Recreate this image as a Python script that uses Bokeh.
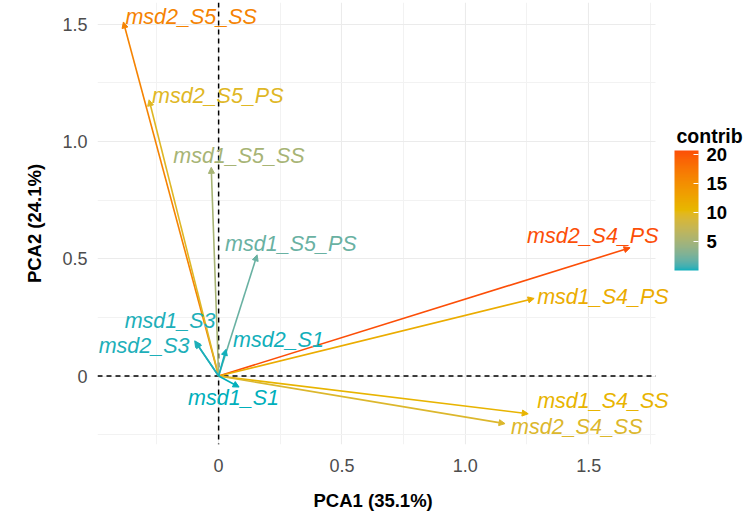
from bokeh.plotting import figure
from bokeh.models import (ColumnDataSource, Range1d, FixedTicker, Span, Arrow,
                          NormalHead, ColorBar, LinearColorMapper, LabelSet, Label,
                          BoxAnnotation, Title)
from bokeh.core.properties import value
from bokeh.embed import file_html
from bokeh.resources import INLINE

# ---- data ----
variables = ["msd2_S5_SS", "msd2_S5_PS", "msd1_S5_SS", "msd1_S5_PS",
             "msd2_S4_PS", "msd1_S4_PS", "msd1_S4_SS", "msd2_S4_SS",
             "msd1_S3", "msd2_S3", "msd2_S1", "msd1_S1"]
pca1 = [-0.386, -0.282, -0.030, 0.156, 1.668, 1.279, 1.255, 1.161,
        -0.093, -0.097, 0.030, 0.083]
pca2 = [1.510, 1.178, 0.890, 0.517, 0.547, 0.331, -0.161, -0.203,
        0.145, 0.150, 0.114, -0.047]
contrib = [16.1, 9.6, 5.1, 1.9, 20.6, 11.7, 10.8, 9.3, 0.22, 0.24, 0.11, 0.06]
x_ticks = [0, 0.5, 1, 1.5]
y_ticks = [0, 0.5, 1, 1.5]
cb_ticks = [5, 10, 15, 20]
x_title = "PCA1 (35.1%)"
y_title = "PCA2 (24.1%)"
legend_title = "contrib"

# panel extent (data units)
x_min, x_max = -0.491, 1.771
y_min, y_max = -0.292, 1.593

# label placement (screen pixel offsets of each label from its arrow tip)
lab_dx = [2, 3, -38, -32, -103, 3, 9, 6, -71, -96, 7, -51]
lab_dy = [-5, -4, -11, -11, -12, -1, -13, 3, -21, 5, -9, 11]

# ---- gradient palette, interpolated in CIELAB like ggplot ----
def srgb_to_lab(h):
    h = h.lstrip("#")
    rgb = [int(h[i:i + 2], 16) / 255 for i in (0, 2, 4)]
    lin = [c / 12.92 if c <= 0.04045 else ((c + 0.055) / 1.055) ** 2.4 for c in rgb]
    X = 0.4124564 * lin[0] + 0.3575761 * lin[1] + 0.1804375 * lin[2]
    Y = 0.2126729 * lin[0] + 0.7151522 * lin[1] + 0.0721750 * lin[2]
    Z = 0.0193339 * lin[0] + 0.1191920 * lin[1] + 0.9503041 * lin[2]
    Xn, Yn, Zn = 0.95047, 1.0, 1.08883
    def f(t):
        return t ** (1 / 3) if t > 216 / 24389 else (24389 / 27 * t + 16) / 116
    fx, fy, fz = f(X / Xn), f(Y / Yn), f(Z / Zn)
    return [116 * fy - 16, 500 * (fx - fy), 200 * (fy - fz)]

def lab_to_hex(lab):
    L, a, b = lab
    fy = (L + 16) / 116
    fx = fy + a / 500
    fz = fy - b / 200
    def finv(t):
        return t ** 3 if t ** 3 > 216 / 24389 else (116 * t - 16) / (24389 / 27)
    X, Y, Z = 0.95047 * finv(fx), finv(fy), 1.08883 * finv(fz)
    r = 3.2404542 * X - 1.5371385 * Y - 0.4985314 * Z
    g = -0.9692660 * X + 1.8760108 * Y + 0.0415560 * Z
    bb = 0.0556434 * X - 0.2040259 * Y + 1.0572252 * Z
    out = []
    for c in (r, g, bb):
        c = 12.92 * c if c <= 0.0031308 else 1.055 * max(c, 0) ** (1 / 2.4) - 0.055
        out.append(max(0, min(255, round(c * 255))))
    return "#%02x%02x%02x" % tuple(out)

stops = [srgb_to_lab(c) for c in ("#00AFBB", "#E7B800", "#FC4E07")]
palette = []
N = 256
for i in range(N):
    t = i / (N - 1) * 2
    k = min(int(t), 1)
    f = t - k
    palette.append(lab_to_hex([stops[k][j] + (stops[k + 1][j] - stops[k][j]) * f
                               for j in range(3)]))

lo, hi = min(contrib), max(contrib)
colors = [palette[min(N - 1, int((c - lo) / (hi - lo) * (N - 1) + 0.5))] for c in contrib]

FONT = "Liberation Sans"

# the frame runs to the right edge so labels are not clipped; the part right of
# x_max is blanked to reproduce the panel edge
PX_PER_UNIT = (655 - 97) / (x_max - x_min)
x_right = x_max + (750 - 655) / PX_PER_UNIT

p = figure(width=750, height=514, output_backend="svg", toolbar_location=None,
           x_range=Range1d(x_min, x_right), y_range=Range1d(y_min, y_max),
           min_border_left=97, min_border_right=0, min_border_top=2,
           min_border_bottom=67)
p.outline_line_color = None
p.background_fill_color = "white"

# grids
p.xaxis.ticker = FixedTicker(ticks=x_ticks, minor_ticks=[-0.25, 0.25, 0.75, 1.25, 1.75])
p.yaxis.ticker = FixedTicker(ticks=y_ticks, minor_ticks=[-0.25, 0.25, 0.75, 1.25])
for g in (p.xgrid, p.ygrid):
    g.grid_line_color = "#EBEBEB"
    g.grid_line_width = 1.1
    g.minor_grid_line_color = "#F2F2F2"
    g.minor_grid_line_width = 1

for ax in (p.xaxis, p.yaxis):
    ax.axis_line_color = None
    ax.major_tick_line_color = None
    ax.minor_tick_line_color = None
    ax.major_label_text_font = FONT
    ax.major_label_text_font_size = "18px"
    ax.major_label_text_color = "#4D4D4D"
    ax.axis_label_text_font = FONT
    ax.axis_label_text_font_size = "18.5px"
    ax.axis_label_text_font_style = "bold"
    ax.axis_label_text_color = "black"
    ax.major_label_overrides = {0: "0", 0.5: "0.5", 1: "1.0", 1.5: "1.5"}
p.yaxis.axis_label = y_title
p.xaxis.major_label_standoff = 8
p.yaxis.major_label_standoff = 4
p.yaxis.axis_label_standoff = 14
# small blank spacer between the x tick labels and the x title
p.xaxis.axis_label = "\u00a0"
p.xaxis.axis_label_text_font_size = "6px"
p.xaxis.axis_label_standoff = 0

# x axis title, centred under the visible panel (97..655 px)
p.add_layout(Title(text=x_title, align="left", offset=216, standoff=8,
                   text_font=FONT, text_font_size="18.5px", text_font_style="bold",
                   text_color="black"), "below")

# reference dashed lines
p.add_layout(Span(location=0, dimension="width", line_color="black",
                  line_dash="5 4", line_width=1.5, level="underlay"))
p.add_layout(Span(location=0, dimension="height", line_color="black",
                  line_dash="5 4", line_width=1.5, level="underlay"))

# blank out the area right of the panel
p.add_layout(BoxAnnotation(left=x_max, fill_color="white", fill_alpha=1,
                           line_color=None, level="underlay"))

# arrows
for xe, ye, col in zip(pca1, pca2, colors):
    p.add_layout(Arrow(end=NormalHead(size=6, fill_color=col, line_color=col, line_width=1),
                       x_start=0, y_start=0, x_end=xe, y_end=ye,
                       line_color=col, line_width=1.6))

src = ColumnDataSource(dict(x=pca1, y=pca2, text=variables, color=colors,
                            dx=lab_dx, dy=[-d for d in lab_dy]))
labels = LabelSet(x="x", y="y", text="text", source=src, text_color="color",
                  x_offset="dx", y_offset="dy",
                  text_font=value(FONT), text_font_size=value("21.5px"),
                  text_font_style=value("italic"),
                  text_align="left", text_baseline="middle")
p.add_layout(labels)

mapper = LinearColorMapper(palette=palette, low=lo, high=hi)
cb = ColorBar(color_mapper=mapper, ticker=FixedTicker(ticks=cb_ticks),
              orientation="vertical",
              width=24, height=120, title=None,
              major_label_text_font=FONT, major_label_text_font_size="18.5px",
              major_label_text_font_style="bold", major_label_text_color="black",
              major_tick_line_color="white", major_tick_in=5, major_tick_out=0,
              minor_tick_line_color=None, bar_line_color=None,
              label_standoff=8, padding=0, margin=0,
              background_fill_color=None, border_line_color=None,
              location=(577, 174))
p.add_layout(cb)

p.add_layout(Label(x=579, y=309, x_units="screen", y_units="screen",
                   text=legend_title, text_font=FONT, text_font_size="19.5px",
                   text_font_style="bold", text_color="black",
                   text_align="left", text_baseline="middle"))

open("out.html", "w").write(file_html(p, INLINE))
